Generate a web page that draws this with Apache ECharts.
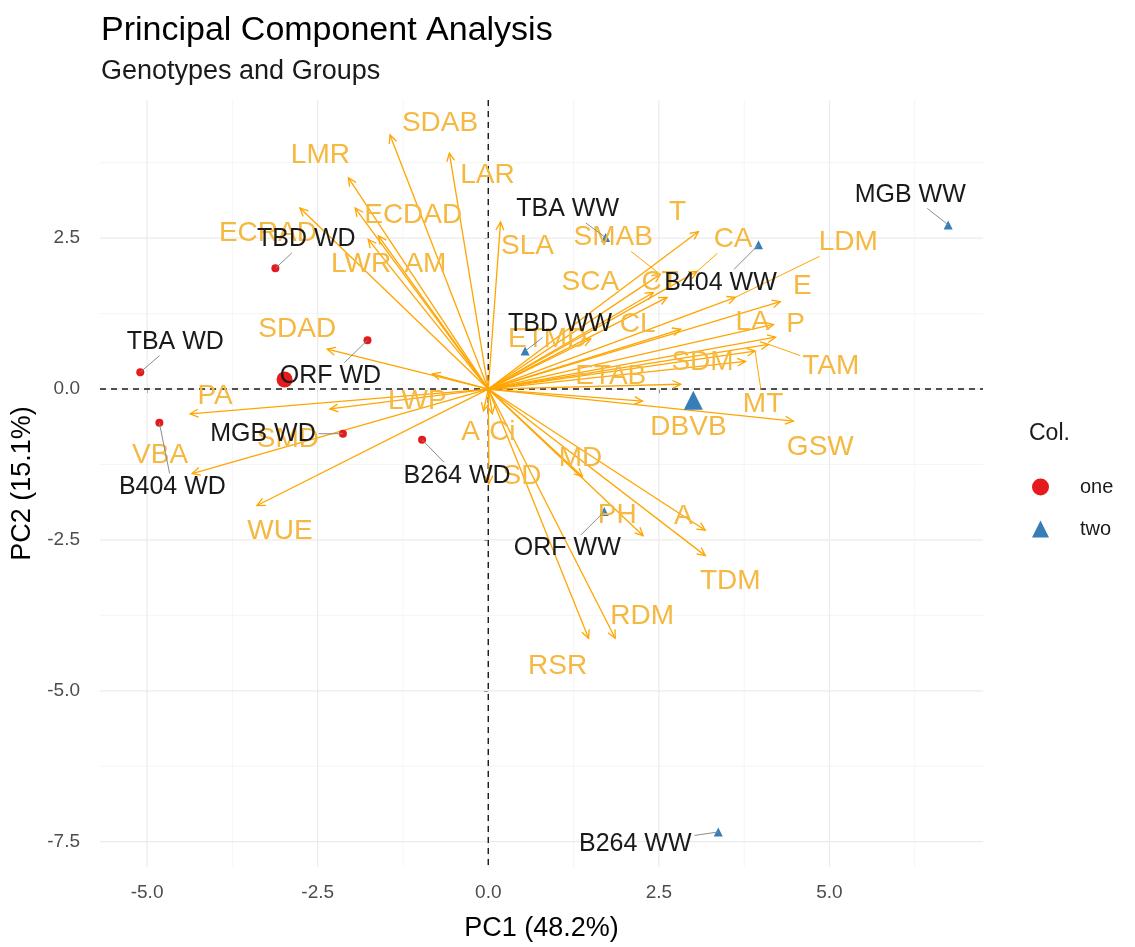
<!DOCTYPE html>
<html>
<head>
<meta charset="utf-8">
<script src="https://cdn.jsdelivr.net/npm/echarts@6/dist/echarts.min.js"></script>
<style>
  html, body { margin: 0; padding: 0; background: #ffffff; }
  #chart { width: 1135px; height: 947px; }
</style>
</head>
<body>
<div id="chart"></div>
<script>
// ---- Individuals: scores on PC1 / PC2 ----
const genoNames = ['TBD WD', 'TBA WD', 'ORF WD', 'MGB WD', 'B404 WD', 'B264 WD',
                   'MGB WW', 'B404 WW', 'TBA WW', 'TBD WW', 'ORF WW', 'B264 WW'];
const genoGroup = ['one', 'one', 'one', 'one', 'one', 'one',
                   'two', 'two', 'two', 'two', 'two', 'two'];
const genoPC1 = [-3.12, -5.10, -1.77, -2.13, -4.82, -0.97, 6.74, 3.96, 1.72, 0.54, 1.70, 3.37];
const genoPC2 = [ 2.00,  0.28,  0.81, -0.74, -0.56, -0.84, 2.72, 2.39, 2.51, 0.63, -2.03, -7.34];

// ---- Variables: loading arrows on PC1 / PC2 ----
const varNames = ['SDAB', 'LAR', 'LMR', 'ECDAD', 'ECRAD', 'LWR', 'AM', 'SLA', 'SDAD', 'PA',
                  'LWP', 'SMD', 'VBA', 'WUE', 'A', 'Ci', 'SD', 'MD', 'PH', 'A',
                  'TDM', 'RDM', 'RSR', 'GSW', 'DBVB', 'MT', 'SDM', 'TAM', 'P', 'LA',
                  'E', 'LDM', 'CA', 'T', 'SMAB', 'SCA', 'CT', 'CL', 'ETMD', 'ETAB'];
const varPC1 = [-1.44, -0.57, -2.05, -1.95, -2.76, -1.76, -1.61, 0.18, -2.36, -4.37,
                -0.82, -2.32, -4.34, -3.39, -0.07, 0.06, 0.01, 1.38, 2.27, 3.18,
                 3.18, 1.86, 1.47, 4.47, 2.26, 3.91, 3.77, 4.11, 4.21, 4.18,
                 4.28, 3.62, 3.06, 3.08, 2.52, 2.42, 2.62, 2.82, 1.50, 2.82];
const varPC2 = [ 4.21, 3.91, 3.50, 3.00, 3.00, 2.48, 2.54, 2.77, 0.66, -0.41,
                 0.25, -0.33, -1.40, -1.93, -0.36, -0.41, -1.57, -1.45, -2.43, -2.34,
                -2.76, -4.13, -4.13, -0.53, -0.20, 0.63, 0.46, 0.74, 0.86, 1.07,
                 1.45, 1.52, 1.95, 2.61, 1.90, 1.60, 1.52, 0.99, 0.83, 0.08];

// ---- Axis ticks ----
const xTicks = [-5, -2.5, 0, 2.5, 5];
const yTicks = [-7.5, -5, -2.5, 0, 2.5];
const xMinor = [-3.75, -1.25, 1.25, 3.75, 6.25];
const yMinor = [-6.25, -3.75, -1.25, 1.25, 3.75];

// ---- Label placement (pixel offsets from the mark, with leader flag) ----
const genoLabelOffset = [[31, -29], [35, -30], [-37, 36], [-80, 0], [13, 64], [35, 36],
                         [-38, -30], [-38, 38], [-38, -28], [35, -27], [-37, 37], [-83, 12]];
const varLabelOffset = [[50, -12], [38, 22], [-28, -23], [58, 7], [-32, 25], [-7, 25], [47, 29], [27, 24], [-30, -20], [25, -18],
                        [-15, 27], [-42, 30], [-32, -18], [23, 26], [-13, 21], [10, 18], [33, -8], [-2, -18], [-26, -20], [-22, -14],
                        [25, 26], [27, -22], [-31, 28], [27, 26], [46, 26], [8, 53], [-43, 1], [62, 22], [20, -13], [-21, -2],
                        [22, -15], [113, -55], [36, -32], [-21, -19], [-47, -37], [-63, -10], [-7, -15], [-43, -5], [-43, 0], [-70, -8]];
const varLabelLeader = new Set(['MT', 'TAM', 'LDM', 'CA', 'SMAB']);

const FONT = '"Liberation Sans", Arial, Helvetica, sans-serif';
const COL_ONE = '#E41A1C';
const COL_TWO = '#377EB8';
const ARROW = '#FFA500';
const VAR_TEXT = '#F5B840';
const VAR_SIZE = 28;
const GENO_SIZE = 25;

const measureCtx = document.createElement('canvas').getContext('2d');
function textWidth(t, size) {
  measureCtx.font = size + 'px ' + FONT;
  return measureCtx.measureText(t).width;
}
// point where the segment from (px,py) to the label centre meets the label box
function boxEdge(px, py, cx, cy, hw, hh) {
  const dx = px - cx, dy = py - cy;
  if (Math.abs(dx) <= hw && Math.abs(dy) <= hh) return null;
  const s = Math.min(hw / Math.max(Math.abs(dx), 1e-9), hh / Math.max(Math.abs(dy), 1e-9));
  return [cx + dx * s, cy + dy * s];
}

// group centroids
function mean(arr, g) {
  const v = arr.filter((_, i) => genoGroup[i] === g);
  return v.reduce((a, b) => a + b, 0) / v.length;
}
function groupData(g) {
  const pts = [];
  genoPC1.forEach((x, i) => { if (genoGroup[i] === g) pts.push({ value: [x, genoPC2[i]] }); });
  pts.push({ value: [mean(genoPC1, g), mean(genoPC2, g)], symbolSize: g === 'one' ? 16 : 19 });
  return pts;
}

const chart = echarts.init(document.getElementById('chart'), null, { renderer: 'canvas' });

const option = {
  backgroundColor: '#ffffff',
  animation: false,
  title: {
    text: 'Principal Component Analysis',
    subtext: 'Genotypes and Groups',
    left: 96, top: 9,
    itemGap: 10,
    textStyle: { fontFamily: FONT, fontSize: 34, fontWeight: 'normal', color: '#000000' },
    subtextStyle: { fontFamily: FONT, fontSize: 27, color: '#1a1a1a' }
  },
  legend: {
    orient: 'vertical',
    left: 1027, top: 472,
    itemWidth: 17, itemHeight: 17, itemGap: 22,
    textStyle: { fontFamily: FONT, fontSize: 20, color: '#1a1a1a', padding: [0, 0, 0, 26] },
    data: [{ name: 'one', icon: 'circle' }, { name: 'two', icon: 'triangle' }]
  },
  graphic: [{
    type: 'text', left: 1029, top: 422,
    style: { text: 'Col.', font: '23px ' + FONT, fill: '#1a1a1a' }
  }],
  grid: { left: 100, right: 152, top: 100, bottom: 77, containLabel: false },
  xAxis: {
    type: 'value', min: -5.69, max: 7.25,
    name: 'PC1 (48.2%)', nameLocation: 'middle', nameGap: 48,
    nameTextStyle: { fontFamily: FONT, fontSize: 27, color: '#000000' },
    axisLine: { show: false },
    axisTick: { show: true, length: 4, lineStyle: { color: '#333333' }, customValues: xTicks },
    axisLabel: { fontFamily: FONT, fontSize: 19, color: '#4D4D4D', margin: 16, customValues: xTicks,
                 formatter: v => v.toFixed(1) },
    splitLine: { show: false }
  },
  yAxis: {
    type: 'value', min: -7.92, max: 4.79,
    name: 'PC2 (15.1%)', nameLocation: 'middle', nameGap: 53,
    nameTextStyle: { fontFamily: FONT, fontSize: 27, color: '#000000' },
    axisLine: { show: false },
    axisTick: { show: true, length: 4, lineStyle: { color: '#333333' }, customValues: yTicks },
    axisLabel: { fontFamily: FONT, fontSize: 19, color: '#4D4D4D', margin: 20, customValues: yTicks,
                 formatter: v => v.toFixed(1) },
    splitLine: { show: false }
  },
  series: [
    // panel grid: minor and major lines
    {
      type: 'custom', z: 1, silent: true,
      data: [[0, 0]],
      renderItem: (params, api) => {
        const cs = params.coordSys;
        const kids = [];
        const vline = (v, w, c) => {
          const x = api.coord([v, 0])[0];
          kids.push({ type: 'line', shape: { x1: x, y1: cs.y, x2: x, y2: cs.y + cs.height }, style: { stroke: c, lineWidth: w } });
        };
        const hline = (v, w, c) => {
          const y = api.coord([0, v])[1];
          kids.push({ type: 'line', shape: { x1: cs.x, y1: y, x2: cs.x + cs.width, y2: y }, style: { stroke: c, lineWidth: w } });
        };
        xMinor.forEach(v => vline(v, 0.8, '#F2F2F2'));
        yMinor.forEach(v => hline(v, 0.8, '#F2F2F2'));
        xTicks.forEach(v => vline(v, 1.2, '#EBEBEB'));
        yTicks.forEach(v => hline(v, 1.2, '#EBEBEB'));
        return { type: 'group', children: kids };
      }
    },
    // dashed reference lines through the origin
    {
      type: 'custom', z: 2, silent: true,
      data: [[0, 0]],
      renderItem: (params, api) => {
        const cs = params.coordSys;
        const o = api.coord([0, 0]);
        const st = { stroke: '#1a1a1a', lineWidth: 1.4, lineDash: [6, 5] };
        return { type: 'group', children: [
          { type: 'line', shape: { x1: o[0], y1: cs.y, x2: o[0], y2: cs.y + cs.height }, style: st },
          { type: 'line', shape: { x1: cs.x, y1: o[1], x2: cs.x + cs.width, y2: o[1] }, style: st }
        ] };
      }
    },
    // variable arrows
    {
      type: 'custom', z: 3, silent: true,
      data: varPC1.map((x, i) => [x, varPC2[i]]),
      encode: { x: 0, y: 1 },
      renderItem: (params, api) => {
        const o = api.coord([0, 0]);
        const t = api.coord([api.value(0), api.value(1)]);
        const ang = Math.atan2(t[1] - o[1], t[0] - o[0]);
        const L = 9, a = Math.PI / 7;
        const p1 = [t[0] - L * Math.cos(ang - a), t[1] - L * Math.sin(ang - a)];
        const p2 = [t[0] - L * Math.cos(ang + a), t[1] - L * Math.sin(ang + a)];
        const st = { stroke: ARROW, lineWidth: 1.3, fill: null };
        return { type: 'group', children: [
          { type: 'line', shape: { x1: o[0], y1: o[1], x2: t[0], y2: t[1] }, style: st },
          { type: 'polyline', shape: { points: [p1, t, p2] }, style: st }
        ] };
      }
    },
    // individuals
    {
      name: 'one', type: 'scatter', z: 4, symbol: 'circle', symbolSize: 8,
      itemStyle: { color: COL_ONE, opacity: 1 },
      data: groupData('one')
    },
    {
      name: 'two', type: 'scatter', z: 4, symbol: 'triangle', symbolSize: 9,
      itemStyle: { color: COL_TWO, opacity: 1 },
      data: groupData('two')
    },
    // variable labels
    {
      type: 'custom', z: 5, silent: true,
      data: varPC1.map((x, i) => [x, varPC2[i], i]),
      encode: { x: 0, y: 1 },
      renderItem: (params, api) => {
        const i = api.value(2);
        const name = varNames[i];
        const t = api.coord([api.value(0), api.value(1)]);
        const off = varLabelOffset[i];
        const c = [t[0] + off[0], t[1] + off[1]];
        const kids = [];
        if (varLabelLeader.has(name)) {
          const e = boxEdge(t[0], t[1], c[0], c[1], textWidth(name, VAR_SIZE) / 2 + 2, VAR_SIZE / 2);
          if (e) kids.push({ type: 'line', shape: { x1: t[0], y1: t[1], x2: e[0], y2: e[1] },
                             style: { stroke: ARROW, lineWidth: 1 } });
        }
        kids.push({ type: 'text', style: { text: name, x: c[0], y: c[1], align: 'center', verticalAlign: 'middle',
                                           font: VAR_SIZE + 'px ' + FONT, fill: VAR_TEXT } });
        return { type: 'group', children: kids };
      }
    },
    // individual labels with leader segments
    {
      type: 'custom', z: 6, silent: true,
      data: genoPC1.map((x, i) => [x, genoPC2[i], i]),
      encode: { x: 0, y: 1 },
      renderItem: (params, api) => {
        const i = api.value(2);
        const name = genoNames[i];
        const p = api.coord([api.value(0), api.value(1)]);
        const off = genoLabelOffset[i];
        const c = [p[0] + off[0], p[1] + off[1]];
        const kids = [];
        const e = boxEdge(p[0], p[1], c[0], c[1], textWidth(name, GENO_SIZE) / 2 + 3, GENO_SIZE / 2 + 1);
        if (e && Math.hypot(e[0] - p[0], e[1] - p[1]) > 6) {
          kids.push({ type: 'line', shape: { x1: p[0], y1: p[1], x2: e[0], y2: e[1] },
                      style: { stroke: '#8C8C8C', lineWidth: 1 } });
        }
        kids.push({ type: 'text', style: { text: name, x: c[0], y: c[1], align: 'center', verticalAlign: 'middle',
                                           font: GENO_SIZE + 'px ' + FONT, fill: '#1a1a1a' } });
        return { type: 'group', children: kids };
      }
    }
  ]
};

chart.setOption(option);
</script>
</body>
</html>
